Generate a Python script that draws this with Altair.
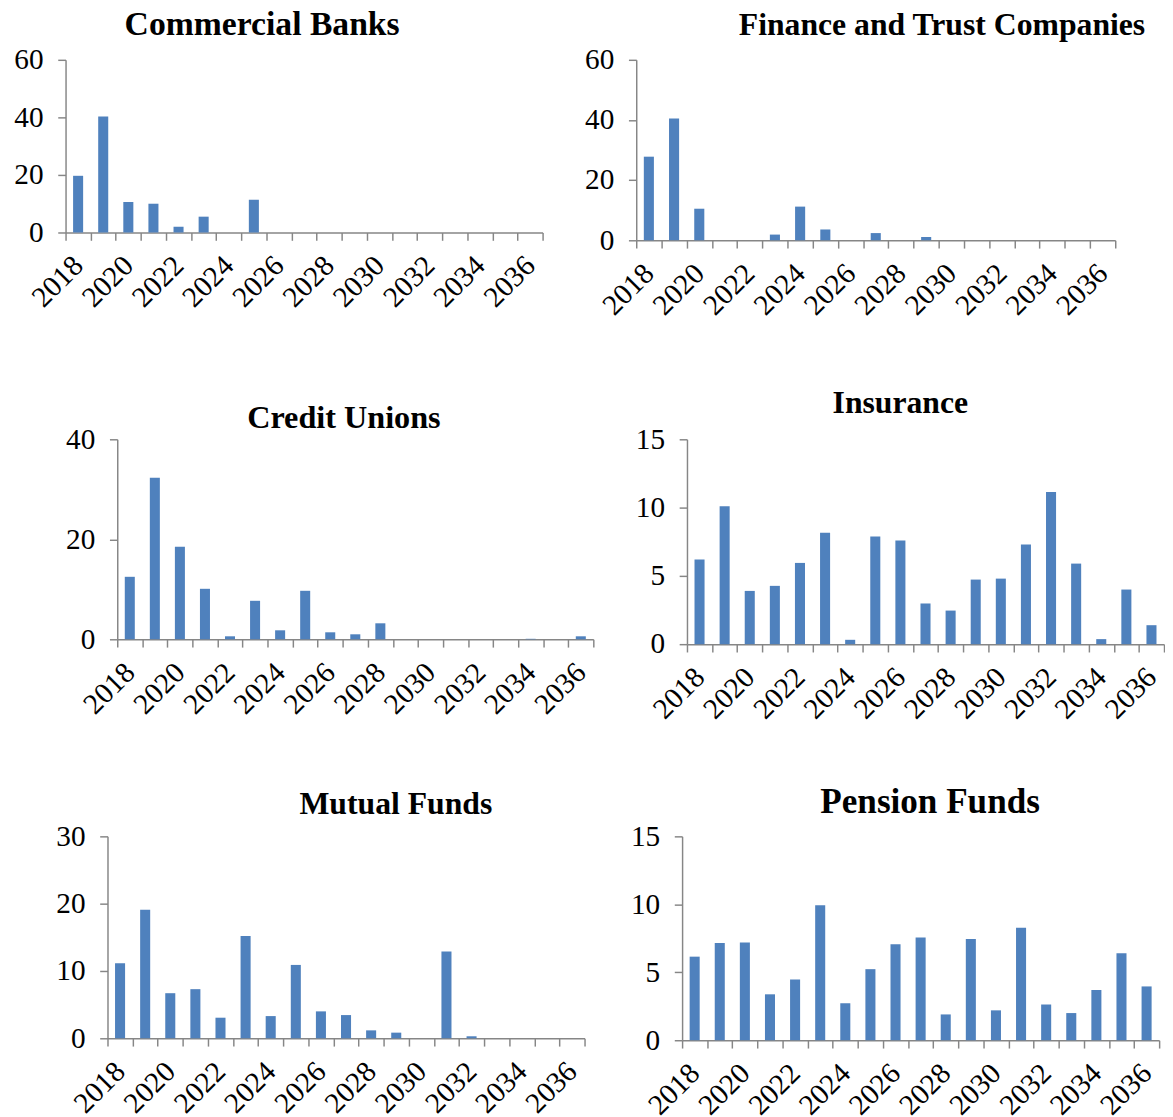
import altair as alt
import pandas as pd

years = [2018, 2019, 2020, 2021, 2022, 2023, 2024, 2025, 2026, 2027,
         2028, 2029, 2030, 2031, 2032, 2033, 2034, 2035, 2036]

commercial_banks = [19.7, 40.3, 10.6, 10.0, 2.0, 5.5, 0, 11.4, 0, 0,
                    0, 0, 0, 0, 0, 0, 0, 0, 0]
finance_trust = [27.8, 40.5, 10.5, 0, 0, 1.9, 11.2, 3.6, 0, 2.4,
                 0, 1.1, 0, 0, 0, 0, 0, 0, 0]
credit_unions = [12.5, 32.3, 18.5, 10.1, 0.6, 7.7, 1.8, 9.7, 1.4, 1.0,
                 3.2, 0, 0, 0, 0, 0, 0.1, 0, 0.6]
insurance = [6.2, 10.1, 3.9, 4.27, 5.95, 8.15, 0.32, 7.88, 7.59, 2.98,
             2.46, 4.73, 4.8, 7.29, 11.15, 5.9, 0.37, 4.0, 1.39]
mutual_funds = [11.15, 19.1, 6.7, 7.3, 3.06, 15.2, 3.3, 10.9, 4.0, 3.45,
                1.18, 0.84, 0, 12.9, 0.3, 0, 0, 0, 0]
pension_funds = [6.15, 7.15, 7.2, 3.38, 4.47, 9.94, 2.72, 5.23, 7.07, 7.56,
                 1.9, 7.44, 2.2, 8.27, 2.63, 2.0, 3.7, 6.4, 3.96]

FONT = "Liberation Serif"
BLUE = "#4F81BD"
GRAY = "#868686"
LABEL_SIZE = 30

# per-column view widths and per-row view heights (flush layout)
COL_W = [600, 585]
ROW_H = [191.8, 210, 209]


def panel(vals, title, ymax, yticks, col, row, left, w, h,
          tsize, tdx, toffset, tdy):
    W, H = COL_W[col], ROW_H[row]
    df = pd.DataFrame({"year": years, "value": vals})
    return (
        alt.Chart(
            df,
            title=alt.Title(title, font=FONT, fontSize=tsize, fontWeight="bold",
                            color="black", anchor="middle", frame="group",
                            dx=tdx, dy=tdy, offset=toffset),
        )
        .mark_bar(color=BLUE, width=alt.RelativeBandSize(0.4))
        .encode(
            x=alt.X(
                "year:O",
                scale=alt.Scale(paddingInner=0, paddingOuter=0, range=[left, left + w]),
                axis=alt.Axis(
                    title=None, labelAngle=-45, labelAlign="right", labelBaseline="middle",
                    labelPadding=21, tickBand="extent", tickSize=8, tickWidth=1.5,
                    domainWidth=1.5, domainColor=GRAY, tickColor=GRAY,
                    labelExpr="datum.value % 2 == 0 ? datum.label : ''",
                    labelFont=FONT, labelFontSize=LABEL_SIZE, labelColor="black",
                    labelOverlap=False, labelFlush=False, offset=-(H - h),
                ),
            ),
            y=alt.Y(
                "value:Q",
                scale=alt.Scale(domain=[0, ymax], nice=False, range=[h, 0]),
                axis=alt.Axis(
                    title=None, values=yticks, grid=False, tickSize=8, tickWidth=1.5,
                    domainWidth=1.5, domainColor=GRAY, tickColor=GRAY,
                    labelPadding=15, labelFont=FONT, labelFontSize=LABEL_SIZE,
                    labelColor="black", offset=-left,
                ),
            ),
        )
        .properties(width=W, height=H)
    )


p1 = panel(commercial_banks, "Commercial Banks", 60, [0, 20, 40, 60],
           0, 0, 59, 489, 177, 34.5, -39.5, 2.5, 0)
p2 = panel(finance_trust, "Finance and Trust Companies", 60, [0, 20, 40, 60],
           1, 0, 44, 491, 185, 32.5, 64.9, 3.5, 0)
p3 = panel(credit_unions, "Credit Unions", 40, [0, 20, 40],
           0, 1, 112, 488, 205, 33, 44.3, 0, 10)
p4 = panel(insurance, "Insurance", 15, [0, 5, 10, 15],
           1, 1, 96, 489, 210, 32.5, 22.2, 5, 0)
p5 = panel(mutual_funds, "Mutual Funds", 30, [0, 10, 20, 30],
           0, 2, 102, 489, 207, 32.5, 97.6, 1.5, 0)
p6 = panel(pension_funds, "Pension Funds", 15, [0, 5, 10, 15],
           1, 2, 91, 489, 209, 36, 52.7, 1, 0)

chart = (
    alt.concat(
        p1, p2, p3, p4, p5, p6,
        columns=2,
        bounds="flush",
        spacing={"row": 197, "column": 0},
    )
    .properties(padding={"left": -11, "top": -14, "right": 0, "bottom": 0})
    .configure_view(stroke=None)
)

chart.save("out.html", embed_options={"renderer": "svg", "actions": False})
